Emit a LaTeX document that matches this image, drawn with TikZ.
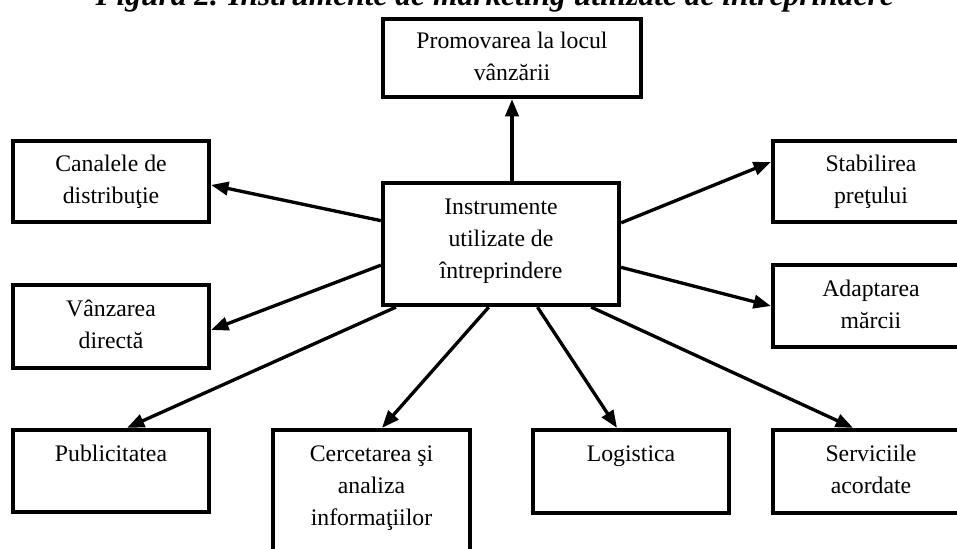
\documentclass[tikz,border=0pt]{standalone}
\usepackage{fontspec}
\setmainfont{Liberation Serif}
\usetikzlibrary{arrows.meta}
\newcommand\bt[1]{\begin{tabular}{@{}c@{}}#1\end{tabular}}
\newcommand\lift[2]{\raisebox{#1}[\height][\depth]{#2}}
\begin{document}
\begin{tikzpicture}[x=0.75pt,y=-0.75pt,
  box/.style={draw, line width=3.2pt, inner sep=0pt, minimum width=147pt, minimum height=60.75pt,
    font=\fontsize{17.8}{24}\selectfont},
  arr/.style={line width=2.5pt, -{Triangle[length=13pt,width=10pt]}}]
\useasboundingbox (0,0) rectangle (957,549);
\clip (0,0) rectangle (957,549);
\node[anchor=base east, inner sep=0pt, font=\fontsize{23.6}{28}\selectfont\bfseries\itshape] (title) at (894,6)
  {Figura 2. Instrumente de marketing utilizate de întreprindere};
\node[box, minimum width=193.5pt, minimum height=58.5pt] (top) at (512,58) {\bt{Promovarea la locul\\vânzării}};
\node[box, minimum width=177pt, minimum height=91.5pt] (ctr) at (501,244) {\lift{3pt}{\bt{Instrumente\\utilizate de\\întreprindere}}};
\node[box] (can) at (111,181.5) {\bt{Canalele de\\distribuţie}};
\node[box, minimum height=62.25pt] (van) at (111,326.5) {\bt{Vânzarea\\directă}};
\node[box] (stab) at (871,181.5) {\bt{Stabilirea\\preţului}};
\node[box, minimum height=61.5pt] (adap) at (871,306) {\bt{Adaptarea\\mărcii}};
\node[box, minimum height=61.5pt] (pub) at (111,471) {\bt{Publicitatea\\ \mbox{}}};
\node[box, minimum width=147.75pt, minimum height=93.75pt] (cer) at (371.5,492.5) {\lift{3.75pt}{\bt{Cercetarea şi\\analiza\\informaţiilor}}};
\node[box, minimum height=62.25pt] (log) at (631,471.5) {\bt{Logistica\\ \mbox{}}};
\node[box, minimum height=62.25pt] (serv) at (871,471.5) {\bt{Serviciile\\acordate}};
\draw[arr] (top.south |- ctr.north) -- (top.south);
\draw[arr] (ctr.169.4) -- ([yshift=-2.6pt]can.east);
\draw[arr] (ctr.190.1) -- ([yshift=-2.6pt]van.east);
\draw[arr] (ctr.10.1) -- ([yshift=14.6pt]stab.west);
\draw[arr] (ctr.349.9) -- (adap.west);
\draw[arr] (ctr.211.1) -- ([xshift=12pt]pub.north);
\draw[arr] (ctr.259.8) -- ([xshift=7.9pt]cer.north);
\draw[arr] (ctr.300.5) -- ([xshift=-10.5pt]log.north);
\draw[arr] (ctr.325.6) -- ([xshift=-13.5pt]serv.north);
\end{tikzpicture}
\end{document}
